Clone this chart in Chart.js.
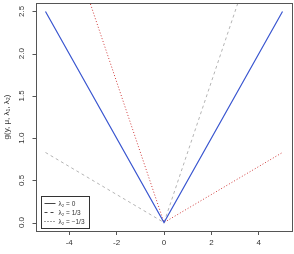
<!DOCTYPE html>
<html><head><meta charset="utf-8">
<script src="https://cdn.jsdelivr.net/npm/chart.js@4"></script>
<style>html,body{margin:0;padding:0;background:#fff}#w{width:294px;height:254px}</style>
</head><body><div id="w"><canvas id="c"></canvas></div>
<script>
const seriesLabels = ['λ₂ = 0', 'λ₂ = 1/3', 'λ₂ = −1/3'];
const xSolid = [-5, 0, 5];
const ySolid = [2.5, 0, 2.5];
const xDashed = [-5, 0, 5];
const yDashed = [0.83, 0, 4.17];
const xDotted = [-5, 0, 5];
const yDotted = [4.17, 0, 0.83];
const xTicks = [-4, -2, 0, 2, 4];
const yTicks = [0, 0.5, 1, 1.5, 2, 2.5];
const yTitle = 'g(y, μ, λ₁, λ₂)';

const pts = (xs, ys) => xs.map((x, i) => ({x, y: ys[i]}));
const FONT = 'Liberation Sans, Arial, sans-serif';

const boxPlugin = {
  id: 'boxLegend',
  afterDatasetsDraw(chart) {
    const {ctx, chartArea: a} = chart;
    ctx.save();
    ctx.strokeStyle = '#555';
    ctx.lineWidth = 1;
    const L = Math.round(a.left) + 0.5;
    ctx.strokeRect(L, Math.round(a.top) + 0.5, Math.round(a.right - a.left), Math.round(a.bottom - a.top));
    // y tick marks and rotated labels
    const ys = chart.scales.y;
    ctx.fillStyle = '#333';
    ctx.font = '8px ' + FONT;
    ctx.textAlign = 'center';
    ctx.textBaseline = 'middle';
    yTicks.forEach(v => {
      const py = Math.round(ys.getPixelForValue(v)) + 0.5;
      ctx.beginPath(); ctx.moveTo(L - 4, py); ctx.lineTo(L, py); ctx.stroke();
      ctx.save();
      ctx.translate(a.left - 14, ys.getPixelForValue(v));
      ctx.rotate(-Math.PI / 2);
      ctx.fillText(v.toFixed(1), 0, 0);
      ctx.restore();
    });
    // legend
    const lx = 41.5, ly = 196.5, lw = 48, lh = 32;
    ctx.fillStyle = '#fff';
    ctx.fillRect(lx, ly, lw, lh);
    ctx.strokeStyle = '#333';
    ctx.strokeRect(lx, ly, lw, lh);
    chart.data.datasets.forEach((ds, i) => {
      const y = ly + 7 + i * 9;
      ctx.strokeStyle = '#444';
      ctx.setLineDash(ds.borderDash || []);
      ctx.beginPath(); ctx.moveTo(lx + 3, y); ctx.lineTo(lx + 14, y); ctx.stroke();
      ctx.setLineDash([]);
      ctx.fillStyle = '#333';
      ctx.font = '6.5px ' + FONT;
      ctx.textBaseline = 'middle';
      ctx.textAlign = 'left';
      ctx.fillText(ds.label, lx + 17, y + 0.5);
    });
    ctx.restore();
  }
};

new Chart(document.getElementById('c'), {
  type: 'scatter',
  data: {
    datasets: [
      {label: seriesLabels[0], data: pts(xSolid, ySolid), showLine: true, borderColor: '#3a56d0', borderWidth: 1.2, pointRadius: 0, fill: false},
      {label: seriesLabels[1], data: pts(xDashed, yDashed), showLine: true, borderColor: '#b4b4b4', borderWidth: 1, borderDash: [3, 3], pointRadius: 0, fill: false},
      {label: seriesLabels[2], data: pts(xDotted, yDotted), showLine: true, borderColor: '#d03a3a', borderWidth: 1, borderDash: [1, 2], pointRadius: 0, fill: false}
    ]
  },
  options: {
    responsive: true, maintainAspectRatio: false, animation: false,
    layout: {padding: {top: 3, right: 2, left: 2, bottom: 0}},
    plugins: {legend: {display: false}, tooltip: {enabled: false}},
    scales: {
      x: {
        type: 'linear', min: -5.4, max: 5.4,
        afterBuildTicks: s => { s.ticks = xTicks.map(v => ({value: v})); },
        afterFit: s => { s.height = 23; },
        grid: {display: true, drawOnChartArea: false, drawTicks: true, tickLength: 4, color: '#555'},
        border: {display: false},
        ticks: {font: {family: FONT, size: 8}, color: '#333', padding: 3, maxRotation: 0, minRotation: 0}
      },
      y: {
        type: 'linear', min: -0.1, max: 2.6,
        afterBuildTicks: s => { s.ticks = yTicks.map(v => ({value: v})); },
        afterFit: s => { s.width = 34; },
        grid: {display: false},
        border: {display: false},
        title: {display: true, text: yTitle, font: {family: FONT, size: 8}, color: '#333', padding: 0},
        ticks: {display: false}
      }
    }
  },
  plugins: [boxPlugin]
});
</script></body></html>
